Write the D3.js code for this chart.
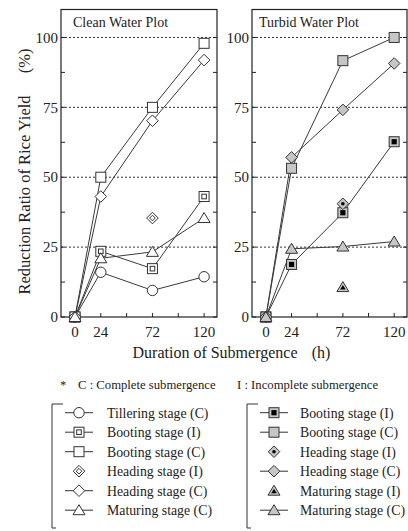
<!DOCTYPE html>
<html><head><meta charset="utf-8">
<script src="https://cdn.jsdelivr.net/npm/d3@7"></script>
<style>body{margin:0;background:#fff}svg{display:block}</style>
</head><body>
<svg id="c" width="408" height="531" font-family="'Liberation Serif', 'Times New Roman', 'DejaVu Serif', serif"></svg>
<script>
// ---- data ----
const hours = [0, 24, 72, 120];
const xTicks = [0, 24, 48, 72, 96, 120];
const xTickLabels = [0, 24, 72, 120];
const yTickLabels = [0, 25, 50, 75, 100];
const yMinorTicks = [0, 12.5, 25, 37.5, 50, 62.5, 75, 87.5, 100];

// Clean water plot
const cleanTilleringC = [0, 16, 9.5, 14.4];
const cleanBootingI   = [0, 23.5, 17.3, 43.1];
const cleanBootingC   = [0, 50, 75, 97.9];
const cleanHeadingI   = [null, null, 35.4, null];
const cleanHeadingC   = [0, 43.1, 70.2, 91.9];
const cleanMaturingC  = [0, 21, 23.3, 35.4];

// Turbid water plot
const turbidBootingI  = [0, 18.8, 37.3, 62.7];
const turbidBootingC  = [0, 53.2, 91.7, 100];
const turbidHeadingI  = [null, null, 40.5, null];
const turbidHeadingC  = [0, 57.1, 74.1, 90.7];
const turbidMaturingI = [null, null, 10.7, null];
const turbidMaturingC = [0, 24.4, 25.2, 27];

const legendLeft  = ["Tillering stage (C)", "Booting stage (I)", "Booting stage (C)", "Heading stage (I)", "Heading stage (C)", "Maturing stage (C)"];
const legendRight = ["Booting stage (I)", "Booting stage (C)", "Heading stage (I)", "Heading stage (C)", "Maturing stage (I)", "Maturing stage (C)"];

const GRAY = "#c6c6c6", INK = "#333", TXT = "#222";
const cleanSeries = [
  {vals: cleanTilleringC, shape: "circle", fill: "#fff", inner: null, line: true},
  {vals: cleanBootingI, shape: "square", fill: "#fff", inner: "sq-open", line: true},
  {vals: cleanBootingC, shape: "square", fill: "#fff", inner: null, line: true},
  {vals: cleanHeadingI, shape: "diamond", fill: "#fff", inner: "dia-open", line: false},
  {vals: cleanHeadingC, shape: "diamond", fill: "#fff", inner: null, line: true},
  {vals: cleanMaturingC, shape: "triangle", fill: "#fff", inner: null, line: true}
];
const turbidSeries = [
  {vals: turbidBootingI, shape: "square", fill: GRAY, inner: "sq-fill", line: true},
  {vals: turbidBootingC, shape: "square", fill: GRAY, inner: null, line: true},
  {vals: turbidHeadingI, shape: "diamond", fill: GRAY, inner: "dot", line: false},
  {vals: turbidHeadingC, shape: "diamond", fill: GRAY, inner: null, line: true},
  {vals: turbidMaturingI, shape: "triangle", fill: GRAY, inner: "tri-fill", line: false},
  {vals: turbidMaturingC, shape: "triangle", fill: GRAY, inner: null, line: true}
];

const svg = d3.select("#c");
const y = d3.scaleLinear().domain([0, 110]).range([317, 9.5]);

function txt(sel, size) {
  return sel.append("text").attr("font-family", "'Liberation Serif', 'Times New Roman', 'DejaVu Serif', serif")
    .attr("font-size", size).attr("fill", TXT);
}

function drawMarker(g, shape, fill, inner, cx, cy) {
  const m = g.append("g").attr("transform", `translate(${cx},${cy})`);
  const st = {stroke: INK, "stroke-width": 1, fill: fill};
  const apply = (el, o) => { for (const k in o) el.attr(k, o[k]); return el; };
  if (shape === "circle") apply(m.append("circle").attr("r", 5.2), st);
  if (shape === "square") apply(m.append("rect").attr("x", -5).attr("y", -5).attr("width", 10).attr("height", 10), st);
  if (shape === "diamond") apply(m.append("path").attr("d", "M0,-5.8L5.8,0L0,5.8L-5.8,0Z"), st);
  if (shape === "triangle") apply(m.append("path").attr("d", "M0,-5.5L6,4.5L-6,4.5Z"), st);
  if (inner === "sq-open") apply(m.append("rect").attr("x", -2.3).attr("y", -2.3).attr("width", 4.6).attr("height", 4.6), {stroke: INK, "stroke-width": 1, fill: "#fff"});
  if (inner === "sq-fill") m.append("rect").attr("x", -2.6).attr("y", -2.6).attr("width", 5.2).attr("height", 5.2).attr("fill", "#000");
  if (inner === "dia-open") apply(m.append("path").attr("d", "M0,-2.8L2.8,0L0,2.8L-2.8,0Z"), {stroke: INK, "stroke-width": 1, fill: "#fff"});
  if (inner === "dot") m.append("circle").attr("r", 1.8).attr("fill", "#000");
  if (inner === "tri-fill") m.append("path").attr("d", "M0,-2L2.8,2.5L-2.8,2.5Z").attr("fill", "#000");
}

function panel(x0, x1, title, titleX, series) {
  const x = d3.scaleLinear().domain([-13, 132]).range([x0, x1]);
  const g = svg.append("g");
  g.selectAll("line.grid").data([25, 50, 75, 100]).join("line")
    .attr("x1", x0).attr("x2", x1).attr("y1", d => y(d)).attr("y2", d => y(d))
    .attr("stroke", "#333").attr("stroke-width", 1).attr("stroke-dasharray", "2,2");
  g.selectAll("line.yl").data(yMinorTicks).join("line")
    .attr("x1", x0).attr("x2", x0 + 4).attr("y1", d => y(d)).attr("y2", d => y(d)).attr("stroke", "#222");
  g.selectAll("line.yr").data(yMinorTicks).join("line")
    .attr("x1", x1).attr("x2", x1 - 4).attr("y1", d => y(d)).attr("y2", d => y(d)).attr("stroke", "#222");
  g.selectAll("line.xb").data(xTicks).join("line")
    .attr("x1", d => x(d)).attr("x2", d => x(d)).attr("y1", y(0)).attr("y2", y(0) - 4).attr("stroke", "#222");
  g.append("rect").attr("x", x0).attr("y", y(110)).attr("width", x1 - x0).attr("height", y(0) - y(110))
    .attr("fill", "none").attr("stroke", "#222").attr("stroke-width", 1.2);
  yTickLabels.forEach(d => txt(g, 15).attr("x", x0 - 3).attr("y", y(d)).attr("dy", "0.35em").attr("text-anchor", "end").text(d));
  xTickLabels.forEach(d => txt(g, 15).attr("x", x(d)).attr("y", 337).attr("text-anchor", "middle").text(d));
  txt(g, 14).attr("x", titleX).attr("y", 27).text(title);
  const line = d3.line().defined(d => d[1] != null).x(d => x(d[0])).y(d => y(d[1]));
  series.filter(s => s.line).forEach(s => {
    g.append("path").attr("d", line(hours.map((h, i) => [h, s.vals[i]])))
      .attr("fill", "none").attr("stroke", "#3a3a3a").attr("stroke-width", 1);
  });
  series.forEach(s => {
    hours.forEach((h, i) => {
      if (s.vals[i] != null) drawMarker(g, s.shape, s.fill, s.inner, x(h), y(s.vals[i]));
    });
  });
}

panel(61, 217, "Clean Water Plot", 73, cleanSeries);
panel(252, 407, "Turbid Water Plot", 259, turbidSeries);

txt(svg, 16.5).attr("transform", "translate(30,195) rotate(-90)").attr("text-anchor", "middle").text("Reduction Ratio of Rice Yield");
txt(svg, 16.5).attr("transform", "translate(30,61) rotate(-90)").attr("text-anchor", "middle").text("(%)");
txt(svg, 16).attr("x", 215).attr("y", 358).attr("text-anchor", "middle").text("Duration of Submergence");
txt(svg, 16).attr("x", 321).attr("y", 358).attr("text-anchor", "middle").text("(h)");

txt(svg, 12.7).attr("x", 60).attr("y", 389).text("*");
txt(svg, 12.7).attr("x", 78).attr("y", 389).text("C : Complete submergence");
txt(svg, 12.7).attr("x", 237).attr("y", 389).text("I : Incomplete submergence");

function legend(bx, sx, tx, labels, series) {
  const top = 404, rowY = i => 412.7 + i * 19.5;
  svg.append("path").attr("d", `M${bx + 11},${top}H${bx}V528H${bx + 4}`).attr("fill", "none").attr("stroke", "#333");
  labels.forEach((lab, i) => {
    const s = series[i];
    if (s.line) svg.append("line").attr("x1", sx - 14).attr("x2", sx + 14).attr("y1", rowY(i)).attr("y2", rowY(i)).attr("stroke", "#333");
    drawMarker(svg, s.shape, s.fill, s.inner, sx, rowY(i));
    txt(svg, 13.8).attr("x", tx).attr("y", rowY(i)).attr("dy", "0.35em").text(lab);
  });
}
legend(52, 79, 107, legendLeft, cleanSeries);
legend(247, 274, 300, legendRight, turbidSeries);
</script>
</body></html>
